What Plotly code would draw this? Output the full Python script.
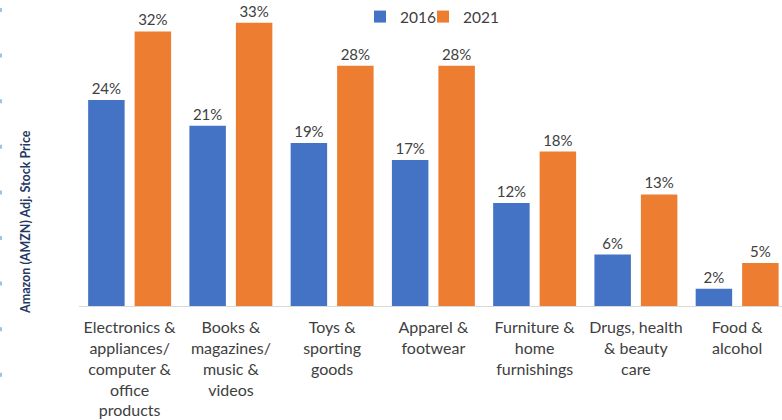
import plotly.graph_objects as go

# Share of online sales by product category
categories = [
    "Electronics &<br>appliances/<br>computer &<br>office<br>products",
    "Books &<br>magazines/<br>music &<br>videos",
    "Toys &<br>sporting<br>goods",
    "Apparel &<br>footwear",
    "Furniture &<br>home<br>furnishings",
    "Drugs, health<br>& beauty<br>care",
    "Food &<br>alcohol",
]
series_names = ["2016", "2021"]
share_2016 = [24, 21, 19, 17, 12, 6, 2]
share_2021 = [32, 33, 28, 28, 18, 13, 5]

BLUE = "#4472C4"
ORANGE = "#ED7D31"
TEXT = "#404040"
FONT = "Lato, 'Open Sans', sans-serif"

fig = go.Figure()
for name, vals, color, leg in [
    (series_names[0], share_2016, BLUE, "legend"),
    (series_names[1], share_2021, ORANGE, "legend2"),
]:
    fig.add_trace(go.Bar(
        name=name,
        x=categories,
        y=vals,
        legend=leg,
        showlegend=True,
        marker=dict(color=color, line=dict(width=0)),
        text=[f"{v}%" for v in vals],
        textposition="outside",
        textfont=dict(size=15, color=TEXT, family=FONT),
        cliponaxis=False,
        constraintext="none",
    ))

legend_style = dict(
    orientation="h",
    xanchor="left",
    y=1.0, yanchor="top",
    font=dict(size=15.5, color=TEXT, family=FONT),
    bgcolor="rgba(0,0,0,0)",
    visible=True,
)

fig.update_layout(
    width=782,
    height=420,
    margin=dict(l=79, r=0, t=0, b=114),
    paper_bgcolor="white",
    plot_bgcolor="white",
    showlegend=True,
    barmode="group",
    bargap=0.082,
    bargroupgap=0.215,
    font=dict(family=FONT, size=15, color=TEXT),
    legend=dict(x=(360 - 79) / 703, **legend_style),
    legend2=dict(x=(423 - 79) / 703, **legend_style),
    xaxis=dict(
        range=[-0.5, 6.443],
        showline=True,
        linecolor="#D9D9D9",
        linewidth=1,
        ticks="",
        showgrid=False,
        tickfont=dict(size=16, color=TEXT, family=FONT),
        tickangle=0,
        ticklabelstandoff=7,
    ),
    yaxis=dict(
        range=[0, 35.66],
        visible=False,
        showgrid=False,
        zeroline=False,
    ),
    annotations=[
        dict(
            text="<b>Amazon (AMZN) Adj. Stock Price</b>",
            textangle=-90,
            xref="paper", yref="paper",
            x=(25 - 79) / 703, y=(306 - 222) / 306,
            xanchor="center", yanchor="middle",
            showarrow=False,
            font=dict(size=12.5, color="#1F3864", family=FONT),
        )
    ],
    shapes=[
        dict(
            type="line",
            xref="paper", yref="paper",
            x0=-78.5 / 703, x1=-78.5 / 703,
            y0=(306 - 8) / 306, y1=(306 - 380) / 306,
            line=dict(color="#9DC3E6", width=3, dash="4px,41.6px"),
        )
    ],
)

fig.write_html("out.html")
